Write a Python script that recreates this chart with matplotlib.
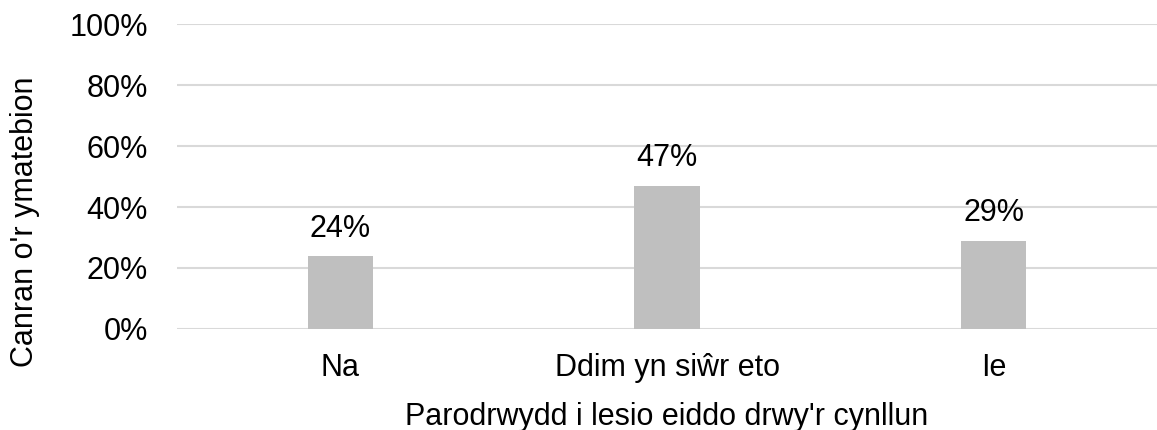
import matplotlib
matplotlib.use("Agg")
import matplotlib.pyplot as plt
from matplotlib.ticker import PercentFormatter

categories = ["Na", "Ddim yn siŵr eto", "Ie"]
percentages = [24, 47, 29]
y_ticks = [0, 20, 40, 60, 80, 100]

plt.rcParams["font.family"] = ["Liberation Sans", "DejaVu Sans"]
FS = 22

fig = plt.figure(figsize=(11.57, 4.30), dpi=100)
ax = fig.add_axes([0.153, 0.235, 0.847, 0.709])

x = range(len(categories))
ax.bar(x, percentages, width=0.2, color="#bfbfbf", zorder=2)

for xi, val in zip(x, percentages):
    ax.text(xi, val + 4, f"{val}%", ha="center", va="bottom", fontsize=FS)

ax.set_xlim(-0.5, 2.5)
ax.set_ylim(0, 100)
ax.set_yticks(y_ticks)
ax.yaxis.set_major_formatter(PercentFormatter(decimals=0))
ax.set_xticks(list(x))
ax.set_xticklabels(categories)
ax.tick_params(axis="both", length=0, labelsize=FS, colors="#000000")
ax.tick_params(axis="y", pad=21)
ax.tick_params(axis="x", pad=17)

ax.grid(axis="y", color="#d9d9d9", linewidth=1.5, zorder=0)
for spine in ax.spines.values():
    spine.set_visible(False)

ax.set_ylabel("Canran o'r ymatebion", fontsize=FS)
ax.yaxis.set_label_coords(-0.14, 0.35)
ax.set_xlabel("Parodrwydd i lesio eiddo drwy'r cynllun", fontsize=FS, labelpad=14)

fig.savefig("out.png", dpi=100, facecolor="white")
